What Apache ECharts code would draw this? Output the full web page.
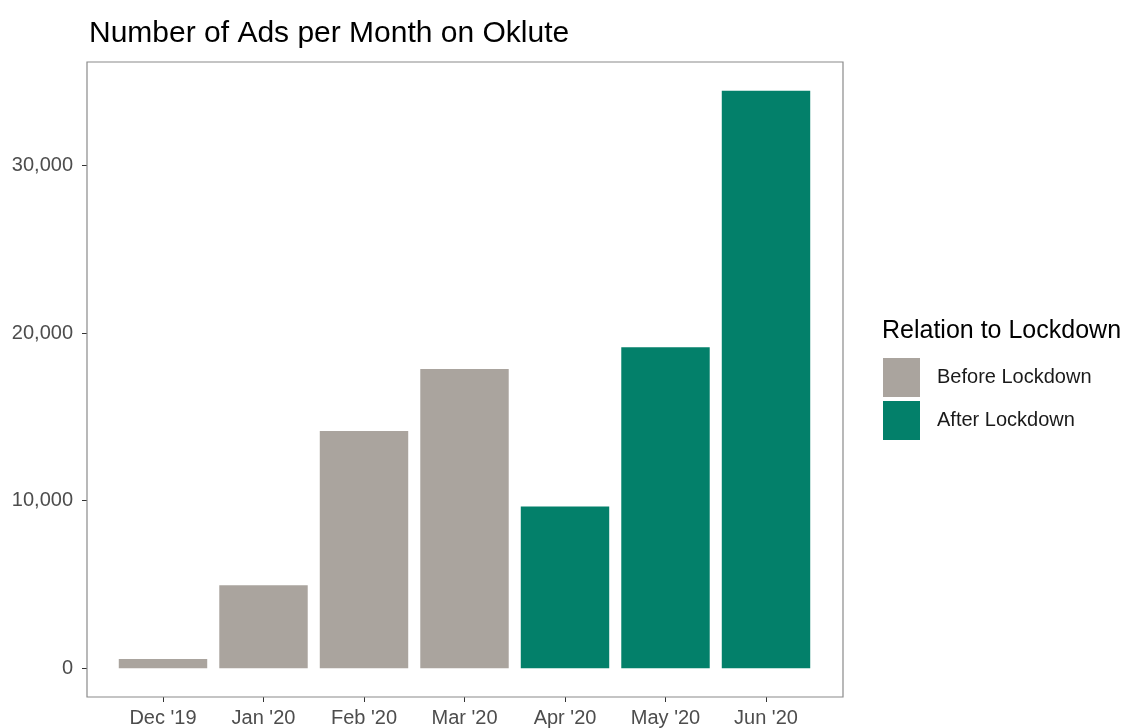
<!DOCTYPE html>
<html lang="en">
<head>
    <meta charset="UTF-8">
    <title>Number of Ads per Month on Oklute</title>
    <style>
        html, body { margin: 0; padding: 0; background: #fff; }
    </style>
</head>
<body>
    <div id="main" style="width: 1129px; height: 728px;"></div>

    <script src="https://cdn.jsdelivr.net/npm/echarts@6/dist/echarts.min.js"></script>
    <script>
        // data
        var months = ["Dec '19", "Jan '20", "Feb '20", "Mar '20", "Apr '20", "May '20", "Jun '20"]
        var adCounts = [550, 4950, 14150, 17850, 9650, 19150, 34450]
        var phase = ['Before Lockdown', 'Before Lockdown', 'Before Lockdown', 'Before Lockdown',
            'After Lockdown', 'After Lockdown', 'After Lockdown']
        var groups = ['Before Lockdown', 'After Lockdown']
        var groupColors = ['#aaa49e', '#03806a']
        var yTicks = [0, 10000, 20000, 30000]

        // panel box (like ggplot's panel border)
        var panel = { left: 87, top: 62, right: 843, bottom: 697 }
        var band = 100.5
        var gridLeft = 112.75
        var gridRight = gridLeft + band * months.length

        var yMax = Math.max.apply(null, adCounts)

        var series = groups.map(function (g, i) {
            return {
                name: g,
                type: 'bar',
                stack: 'ads',
                barCategoryGap: '12%',
                itemStyle: { color: groupColors[i] },
                data: adCounts.map(function (v, k) { return phase[k] === g ? v : '-' })
            }
        })

        var myChart = echarts.init(document.getElementById('main'))
        var option = {
            animation: false,
            backgroundColor: '#fff',
            textStyle: { fontFamily: 'Liberation Sans, Arial, sans-serif' },
            title: [
                {
                    text: 'Number of Ads per Month on Oklute',
                    left: 89, top: 19, padding: 0,
                    textStyle: { fontSize: 30, fontWeight: 'normal', color: '#000' }
                },
                {
                    text: 'Relation to Lockdown',
                    left: 882, top: 319, padding: 0,
                    textStyle: { fontSize: 25, fontWeight: 'normal', color: '#000' }
                }
            ],
            legend: {
                data: groups,
                orient: 'vertical',
                left: 883, top: 358,
                padding: 0,
                itemWidth: 37, itemHeight: 39, itemGap: 4,
                icon: 'rect',
                selectedMode: false,
                textStyle: { fontSize: 20, color: '#1a1a1a', padding: [0, 0, 0, 12] }
            },
            grid: {
                left: gridLeft,
                right: 1129 - gridRight,
                top: panel.top,
                bottom: 728 - panel.bottom
            },
            xAxis: {
                type: 'category',
                data: months,
                axisLine: { show: false, onZero: false },
                axisTick: { show: true, alignWithLabel: true, length: 5, lineStyle: { color: '#333' } },
                axisLabel: { fontSize: 20, color: '#4d4d4d', margin: 11 },
                splitLine: { show: false }
            },
            yAxis: {
                type: 'value',
                min: -0.05 * yMax,
                max: 1.05 * yMax,
                offset: gridLeft - panel.left,
                axisLine: { show: false },
                axisTick: { show: true, length: 5, customValues: yTicks, lineStyle: { color: '#333' } },
                axisLabel: {
                    fontSize: 20, color: '#4d4d4d', margin: 14,
                    customValues: yTicks,
                    formatter: function (v) { return v.toLocaleString('en-US') }
                },
                splitLine: { show: false }
            },
            graphic: [
                {
                    type: 'rect',
                    z: 100,
                    shape: {
                        x: panel.left, y: panel.top,
                        width: panel.right - panel.left,
                        height: panel.bottom - panel.top
                    },
                    style: { fill: 'none', stroke: '#8a8a8a', lineWidth: 1.2 }
                }
            ],
            series: series
        }
        myChart.setOption(option)
    </script>
</body>
</html>
